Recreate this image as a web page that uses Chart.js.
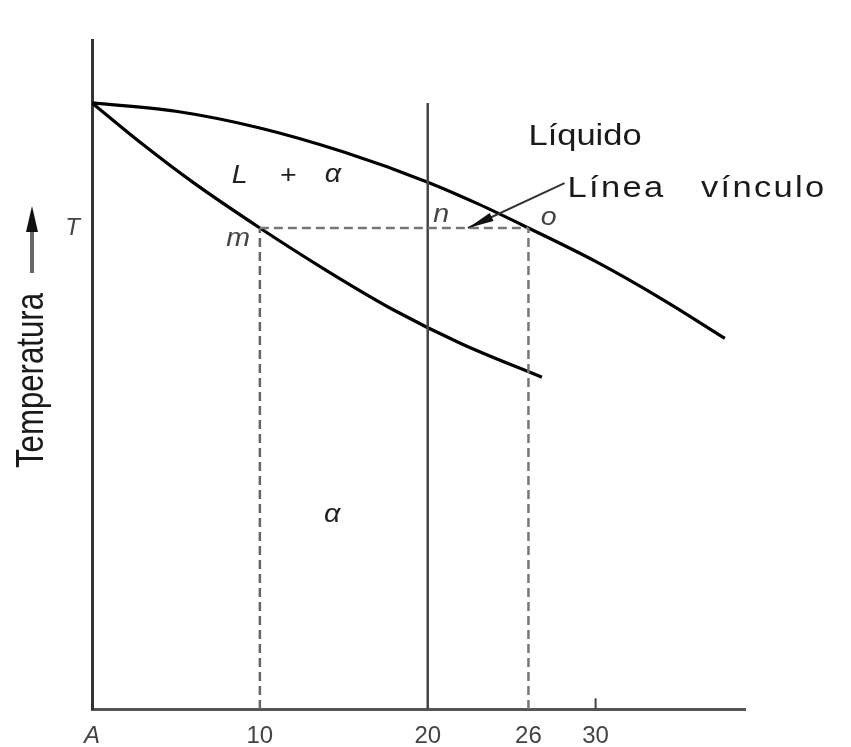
<!DOCTYPE html>
<html><head><meta charset="utf-8">
<script src="https://cdn.jsdelivr.net/npm/chart.js@4/dist/chart.umd.min.js"></script>
<style>html,body{margin:0;padding:0;background:#fff}</style>
</head><body>
<canvas id="c" width="851" height="747"></canvas>
<script>
// ---- data (composition % B on x, relative temperature on y) ----
const xTickValues = [0, 10, 20, 26, 30];
const xTickLabels = ['A', '10', '20', '26', '30'];
const T = 71.9;                       // temperature of the tie line
const liquidusX = [0, 5, 10, 15, 20, 23, 26, 30, 34, 37.7];
const liquidusY = [90.6, 89.35, 86.85, 83.25, 78.75, 75.5, 71.9, 66.9, 61.2, 55.4];
const solidusX = [0, 3, 6, 10, 14, 18, 22, 26.8];
const solidusY = [90.6, 84.45, 78.75, 71.9, 65.5, 59.6, 54.6, 49.6];
const tieLineX = [10, 26];            // m .. o
const alloyX = 20;                    // overall composition (n)
const alloyTopY = 90.6;
const leaderX = [28.15, 22.4];
const leaderY = [78.6, 71.9];
const tickMarkX = 30;

const pts = (xs, ys) => xs.map((x, i) => ({x, y: ys[i]}));

const lineDs = (data, color, width, dash) => ({
  data, showLine: true, pointRadius: 0, borderColor: color, borderWidth: width,
  borderDash: dash || [], fill: false, tension: 0
});

const liq = lineDs(pts(liquidusX, liquidusY), '#000', 3.2);
liq.cubicInterpolationMode = 'monotone';
const sol = lineDs(pts(solidusX, solidusY), '#000', 3.2);
sol.cubicInterpolationMode = 'monotone';

const datasets = [
  lineDs(pts(tieLineX, [T, T]), '#777', 2.5, [9, 5]),
  lineDs(pts([tieLineX[0], tieLineX[0]], [0, T]), '#666', 2.5, [9, 5]),
  lineDs(pts([tieLineX[1], tieLineX[1]], [0, T]), '#777', 2.5, [9, 5]),
  lineDs(pts([alloyX, alloyX], [0, alloyTopY]), '#444', 2.5),
  lineDs(pts([tickMarkX, tickMarkX], [0, 1.6]), '#444', 2),
  lineDs(pts(leaderX, leaderY), '#333', 2),
  liq, sol
];

const labelPlugin = {
  id: 'labels',
  afterDatasetsDraw(chart) {
    const {ctx, chartArea: a, scales: {x, y}} = chart;
    const X = v => x.getPixelForValue(v), Y = v => y.getPixelForValue(v);
    const head = (tx, ty, fx, fy, len, hw, col) => {
      const dx = tx - fx, dy = ty - fy, d = Math.hypot(dx, dy);
      const ux = dx / d, uy = dy / d, bx = tx - ux * len, by = ty - uy * len;
      ctx.beginPath();
      ctx.moveTo(tx, ty);
      ctx.lineTo(bx - uy * hw, by + ux * hw);
      ctx.lineTo(bx + uy * hw, by - ux * hw);
      ctx.closePath();
      ctx.fillStyle = col; ctx.fill();
    };
    const text = (s, px, py, font, sx, align, base, col, ls) => {
      ctx.save();
      ctx.translate(px, py); ctx.scale(sx, 1);
      ctx.font = font; ctx.fillStyle = col || '#222';
      ctx.letterSpacing = ls || '0px';
      ctx.textAlign = align || 'center'; ctx.textBaseline = base || 'middle';
      ctx.fillText(s, 0, 0);
      ctx.restore();
    };
    ctx.save();
    // leader arrowhead
    head(X(leaderX[1]), Y(leaderY[1]), X(leaderX[0]), Y(leaderY[0]), 26, 4.5, '#111');
    // temperature arrow
    const ax = a.left - 60, tp = Y(T);
    ctx.strokeStyle = '#666'; ctx.lineWidth = 4;
    ctx.beginPath(); ctx.moveTo(ax, tp + 45); ctx.lineTo(ax, tp - 5); ctx.stroke();
    head(ax, tp - 22, ax, tp + 45, 26, 6, '#111');
    // axis title
    ctx.save();
    ctx.translate(a.left - 59, (a.top + a.bottom) / 2 + 6);
    ctx.rotate(-Math.PI / 2); ctx.scale(0.82, 1);
    ctx.font = '38px "Liberation Sans", Arial, sans-serif';
    ctx.fillStyle = '#1a1a1a'; ctx.textAlign = 'center'; ctx.textBaseline = 'middle';
    ctx.fillText('Temperatura', 0, 0);
    ctx.restore();
    const big = '30px "Liberation Sans", Arial, sans-serif';
    const it = 'italic 26px "Liberation Sans", Arial, sans-serif';
    text('Líquido', X(26.0), Y(84.3), big, 1.15, 'left', 'alphabetic', '#1a1a1a');
    text('Línea   vínculo', X(28.33), Y(76.5), big, 1.15, 'left', 'alphabetic', '#1a1a1a', '2px');
    text('L', X(8.8), Y(79.7), it, 1.1);
    text('+', X(11.7), Y(79.7), '26px "Liberation Sans", Arial, sans-serif', 1.1);
    text('α', X(14.35), Y(79.8), it, 1.1);
    text('m', X(8.7), Y(70.3), it, 1.1, 'center', 'middle', '#444');
    text('n', X(20.8), Y(73.9), it, 1.1, 'center', 'middle', '#444');
    text('o', X(27.2), Y(73.4), it, 1.1, 'center', 'middle', '#444');
    text('α', X(14.3), Y(29.1), it, 1.1);
    ctx.restore();
  }
};

new Chart(document.getElementById('c'), {
  type: 'scatter',
  data: {datasets},
  options: {
    responsive: false, animation: false, devicePixelRatio: 1,
    layout: {padding: {top: 40, right: 106, left: 0, bottom: 0}},
    plugins: {legend: {display: false}, tooltip: {enabled: false}},
    scales: {
      x: {
        type: 'linear', min: 0, max: 38.9,
        grid: {display: false, drawTicks: false},
        border: {display: true, color: '#555', width: 3},
        afterBuildTicks: s => { s.ticks = xTickValues.map(v => ({value: v})); },
        afterFit: s => { s.height = 38; },
        ticks: {
          padding: 13, color: '#444', maxRotation: 0, autoSkip: false,
          font: c => (c.tick && c.tick.value === 0)
            ? {family: '"Liberation Sans", Arial, sans-serif', size: 24, style: 'italic'}
            : {family: '"Liberation Sans", Arial, sans-serif', size: 24},
          callback: v => xTickLabels[xTickValues.indexOf(v)]
        }
      },
      y: {
        type: 'linear', min: 0, max: 100,
        grid: {display: false, drawTicks: false},
        border: {display: true, color: '#333', width: 3},
        afterBuildTicks: s => { s.ticks = [{value: T}]; },
        afterFit: s => { s.width = 92; },
        ticks: {
          padding: 12, color: '#444', autoSkip: false,
          font: {family: '"Liberation Sans", Arial, sans-serif', size: 24, style: 'italic'},
          callback: () => 'T'
        }
      }
    }
  },
  plugins: [labelPlugin]
});
</script>
</body></html>
